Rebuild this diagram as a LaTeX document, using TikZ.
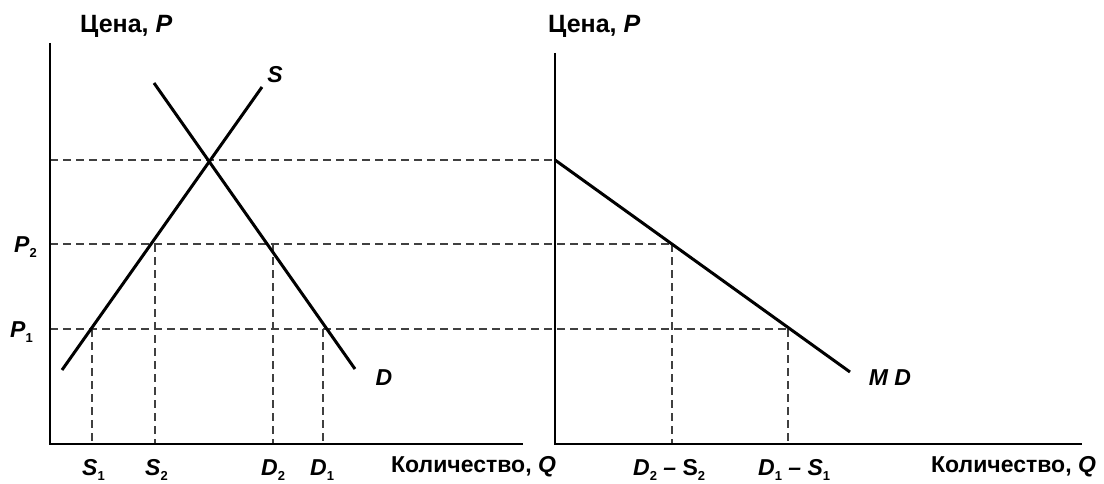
\documentclass[tikz,border=0pt]{standalone}
\usepackage{fontspec}
\setmainfont{Liberation Sans}
\newcommand{\sbs}[1]{\raisebox{-0.45ex}{\fontsize{13}{13}\selectfont\bfseries\upshape #1}}
\begin{document}
\begin{tikzpicture}[x=1pt,y=-1pt,
  axis/.style={line width=2.6pt},
  curve/.style={line width=3pt},
  guide/.style={line width=1.4pt, draw=black!75, dash pattern=on 8pt off 5pt},
  lab/.style={font=\fontsize{23}{24}\selectfont\bfseries\itshape, inner sep=0pt},
  ttl/.style={font=\fontsize{23}{24}\selectfont\bfseries, inner sep=0pt}]
\useasboundingbox[fill=white] (0,0) rectangle (1104,484);
% axes coordinates
\coordinate (O1) at (50,444);
\coordinate (Y1) at (50,43);
\coordinate (X1) at (523,444);
\coordinate (O2) at (555,444);
\coordinate (Y2) at (555,53);
\coordinate (X2) at (1082,444);
% curves
\coordinate (S0) at (62,370);
\coordinate (S9) at (262,87);
\coordinate (D0) at (154,83);
\coordinate (D9) at (355,369);
\coordinate (M0) at (555,160);
\coordinate (M9) at (850,372);
% guide points
\coordinate (hT) at (50,160);
\coordinate (h2) at (50,244);
\coordinate (h1) at (50,329);
\coordinate (r2) at (672,244);
\coordinate (r1) at (788,329);
\coordinate (vs1) at (92,329);
\coordinate (vs2) at (155,244);
\coordinate (vd2) at (273,244);
\coordinate (vd1) at (323,329);
\coordinate (bs1) at (92,444);
\coordinate (bs2) at (155,444);
\coordinate (bd2) at (273,444);
\coordinate (bd1) at (323,444);
\coordinate (br2) at (672,444);
\coordinate (br1) at (788,444);
% dashed guides
\draw[guide] (hT) -- (M0);
\draw[guide] (h2) -- (r2);
\draw[guide] (h1) -- (r1);
\draw[guide] (vs1) -- (bs1);
\draw[guide] (vs2) -- (bs2);
\draw[guide] (vd2) -- (bd2);
\draw[guide] (vd1) -- (bd1);
\draw[guide] (r2) -- (br2);
\draw[guide] (r1) -- (br1);
% axes
\draw[axis] (Y1) -- (O1) -- (X1);
\draw[axis] (Y2) -- (O2) -- (X2);
% curves
\draw[curve] (S0) -- (S9);
\draw[curve] (D0) -- (D9);
\draw[curve] (M0) -- (M9);
% labels
\node[ttl, font=\fontsize{25}{26}\selectfont\bfseries, anchor=base west] (t1) at (80,33) {Цена, \textit{P}};
\node[ttl, font=\fontsize{25}{26}\selectfont\bfseries, anchor=base west] (t2) at (548,33) {Цена, \textit{P}};
\node[ttl, anchor=base west] (q1) at (391,472) {Количество, \textit{Q}};
\node[ttl, anchor=base west] (q2) at (931,472) {Количество, \textit{Q}};
\node[lab] (ls) at (275,75) {S};
\node[lab] (ld) at (384,378) {D};
\node[lab] (lmd) at (890,378) {M D};
\node[lab, anchor=base west] (lp2) at (14,252) {P\sbs{2}};
\node[lab, anchor=base west] (lp1) at (10,337) {P\sbs{1}};
\node[lab, anchor=base west] (ls1) at (82,475) {S\sbs{1}};
\node[lab, anchor=base west] (ls2) at (145,475) {S\sbs{2}};
\node[lab, anchor=base west] (ld2) at (261,475) {D\sbs{2}};
\node[lab, anchor=base west] (ld1) at (310,475) {D\sbs{1}};
\node[lab, anchor=base west] (ldd2) at (633,475) {D\sbs{2} – \upshape S\sbs{2}};
\node[lab, anchor=base west] (ldd1) at (758,475) {D\sbs{1} – S\sbs{1}};
\end{tikzpicture}
\end{document}
